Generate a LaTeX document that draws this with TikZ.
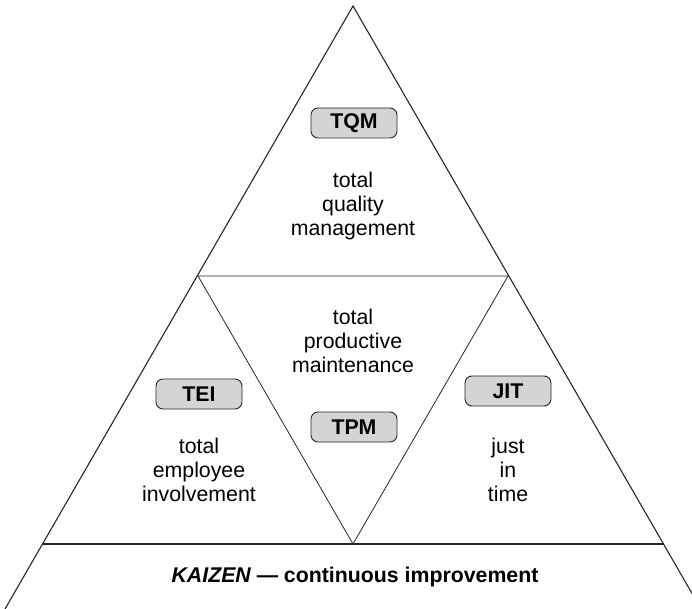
\documentclass[tikz,border=0pt]{standalone}
\usepackage{fontspec}
\setmainfont{Liberation Sans}
\usetikzlibrary{
  positioning,  % Function "of" (e.g. [below=of x])
  calc,
}
\def\mylinesep{24pt}
\tikzset{
  font=\fontsize{21.3}{\mylinesep}\selectfont,
  edge/.style={
    line width=1.1pt,
    draw=black!85
  },
  inner edge/.style={
    line width=0.8pt,
    draw=black!85
  },
  tag/.style={
    draw=black!85,
    line width=0.9pt,
    fill=black!17,
    rounded corners=7pt,
    minimum width=86pt,
    minimum height=30pt,
    inner sep=0pt,
    font=\fontsize{21.3}{\mylinesep}\selectfont\bfseries
  },
  caption/.style={
    align=center,
    inner sep=0pt
  }
}

\begin{document}
\begin{tikzpicture}[x=1pt,y=-1pt]
\useasboundingbox (0,0) rectangle (692,609);
\clip (0,0) rectangle (692,609);
% corners
\coordinate (apex) at (353,6);
\coordinate (bl)   at (43,544);
\coordinate (br)   at (664,544);
\coordinate (ml)   at (198,276);
\coordinate (mr)   at (508,276);
\coordinate (bm)   at (353,544);
\coordinate (le)   at (5,609);
\coordinate (re)   at (701,609);
% outline
\draw[edge] (le) -- (apex) -- (re);
\draw[edge] (bl) -- (br);
\draw[inner edge] (ml) -- (mr) -- (bm) -- cycle;
% labels
\node[tag]     (tqm)  at (354,123) {TQM};
\node[caption] (tqmt) at (353,206) {total\\quality\\management};
\node[caption] (tpmt) at (353,341) {total\\productive\\maintenance};
\node[tag]     (tpm)  at (354,427) {TPM};
\node[tag]     (tei)  at (199,394) {TEI};
\node[caption] (teit) at (199,470) {total\\employee\\involvement};
\node[tag]     (jit)  at (508,391) {JIT};
\node[caption] (jitt) at (508,470) {just\\in\\time};
\node[caption] (kai)  at (355,577) {\bfseries\itshape KAIZEN\upshape\ --- continuous improvement};
\end{tikzpicture}
\end{document}
